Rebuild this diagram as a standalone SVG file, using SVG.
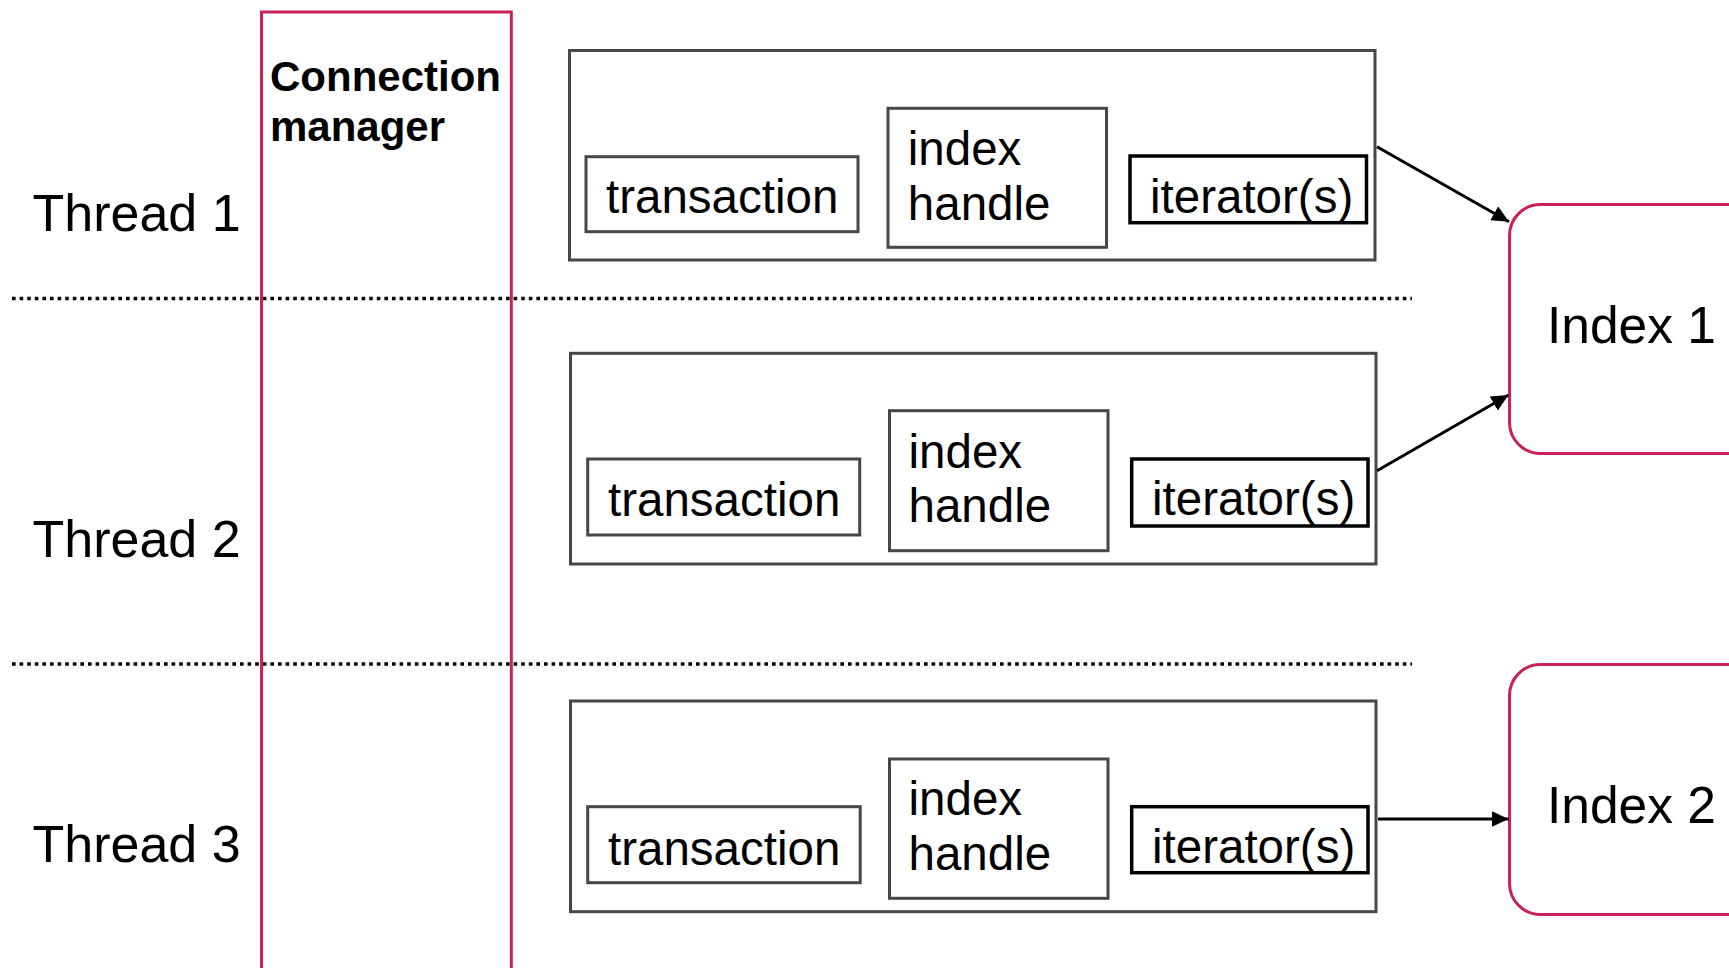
<svg xmlns="http://www.w3.org/2000/svg" width="1729" height="968" viewBox="0 0 1729 968">
<defs>
<style>
.lbl{font-family:"Liberation Sans",Arial,sans-serif;fill:#000}
.thr{font-size:52px}
.box{font-size:47.5px}
.outer{fill:#fff;stroke:#474747;stroke-width:3}
.inner{fill:#fff;stroke:#474747;stroke-width:3}
.iter{fill:#fff;stroke:#000;stroke-width:3.5}
.crim{fill:#fff;stroke:#C9215B;stroke-width:3}
.cm{fill:none;stroke:#C9215B;stroke-width:3}
.dot{stroke:#000;stroke-width:3.4;stroke-dasharray:3.6 4}
.conn{stroke:#000;stroke-width:3;fill:none}
</style>
<marker id="arr" markerUnits="userSpaceOnUse" markerWidth="20" markerHeight="18" refX="17" refY="8" orient="auto">
<path d="M0,0 L17,8 L0,16 Z" fill="#000"/>
</marker>
</defs>
<rect width="1729" height="968" fill="#fff"/>

<g id="separators">
<line class="dot" x1="12" y1="298.5" x2="1412" y2="298.5"/>
<line class="dot" x1="12" y1="664" x2="1412" y2="664"/>
</g>

<g id="connection-manager">
<rect class="cm" x="261.5" y="12" width="249.8" height="990"/>
<text class="lbl" x="270" y="91" font-size="42" font-weight="bold">Connection</text>
<text class="lbl" x="270" y="141" font-size="42" font-weight="bold">manager</text>
</g>

<g id="thread-labels">
<text class="lbl thr" x="32.5" y="231">Thread 1</text>
<text class="lbl thr" x="32.5" y="557.3">Thread 2</text>
<text class="lbl thr" x="32.5" y="861.7">Thread 3</text>
</g>

<g id="thread1">
<rect class="outer" x="569.5" y="50.5" width="805.5" height="209.5"/>
<g id="t1-transaction"><rect class="inner" x="586" y="156.7" width="272" height="75"/><text class="lbl box" x="606" y="213.3">transaction</text></g>
<g id="t1-index-handle"><rect class="inner" x="888" y="108.3" width="218.5" height="139"/><text class="lbl box" x="907.8" y="165">index</text><text class="lbl box" x="907.8" y="220">handle</text></g>
<g id="t1-iterators"><rect class="iter" x="1130" y="156" width="236.5" height="66.7"/><text class="lbl box" x="1150" y="212.7">iterator(s)</text></g>
</g>

<g id="thread2">
<rect class="outer" x="570.5" y="353.3" width="805.5" height="210.7"/>
<g id="t2-transaction"><rect class="inner" x="587.7" y="459" width="272" height="76"/><text class="lbl box" x="608" y="516">transaction</text></g>
<g id="t2-index-handle"><rect class="inner" x="889.5" y="410.7" width="218.5" height="140"/><text class="lbl box" x="908.5" y="468.3">index</text><text class="lbl box" x="908.5" y="521.7">handle</text></g>
<g id="t2-iterators"><rect class="iter" x="1131.7" y="459" width="236.3" height="67"/><text class="lbl box" x="1152" y="515">iterator(s)</text></g>
</g>

<g id="thread3">
<rect class="outer" x="570.5" y="701" width="805.5" height="210.7"/>
<g id="t3-transaction"><rect class="inner" x="587.7" y="806.7" width="272.5" height="76"/><text class="lbl box" x="608" y="865">transaction</text></g>
<g id="t3-index-handle"><rect class="inner" x="889.5" y="759" width="218.5" height="139.3"/><text class="lbl box" x="908.5" y="815">index</text><text class="lbl box" x="908.5" y="870">handle</text></g>
<g id="t3-iterators"><rect class="iter" x="1131.7" y="806.7" width="236.3" height="66"/><text class="lbl box" x="1152" y="863.3">iterator(s)</text></g>
</g>

<g id="index1">
<rect class="crim" x="1509.5" y="204.5" width="260" height="249" rx="31" ry="31"/>
<text class="lbl" x="1547" y="343.3" font-size="51.5">Index 1</text>
</g>

<g id="index2">
<rect class="crim" x="1509.5" y="664.5" width="260" height="250" rx="31" ry="31"/>
<text class="lbl" x="1547" y="823.3" font-size="51.5">Index 2</text>
</g>

<g id="connectors">
<line class="conn" x1="1377" y1="146.7" x2="1509" y2="221.7" marker-end="url(#arr)"/>
<line class="conn" x1="1377" y1="470.7" x2="1508.5" y2="395" marker-end="url(#arr)"/>
<line class="conn" x1="1378" y1="819" x2="1508.5" y2="819" marker-end="url(#arr)"/>
</g>
</svg>
